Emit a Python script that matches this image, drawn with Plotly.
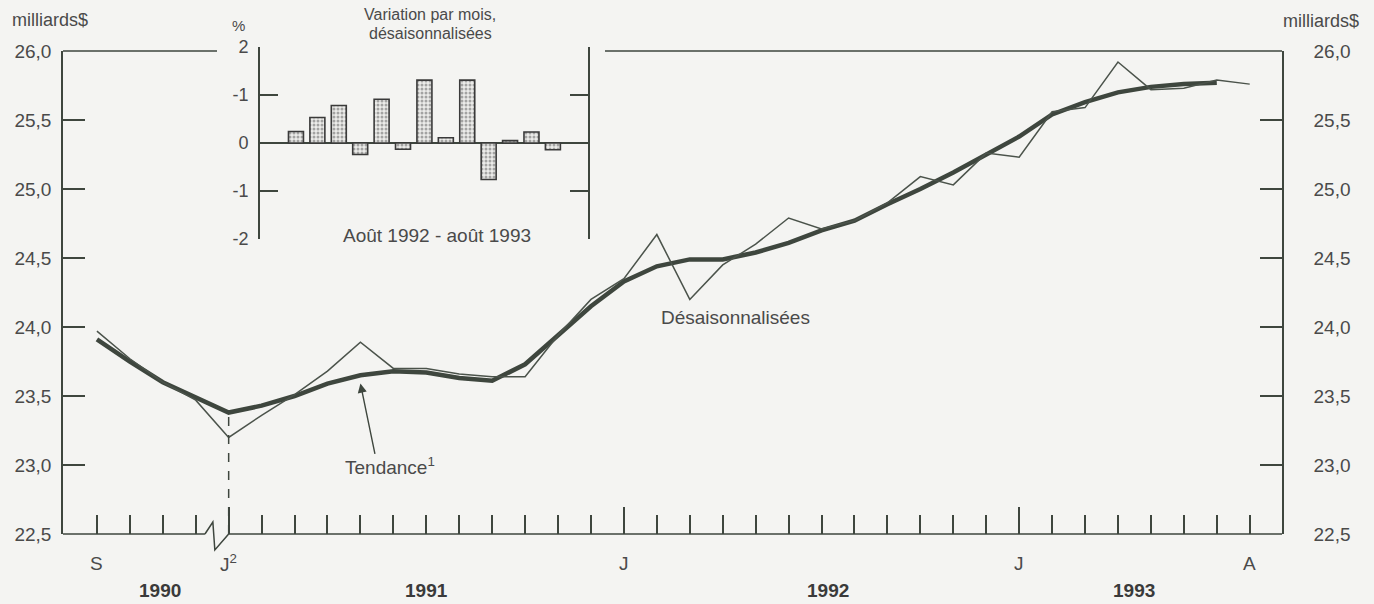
import plotly.graph_objects as go

# ---------------- data ----------------
# months from Sep 1990 (index 0) to Aug 1993 (index 35)
month_index = list(range(36))
desaisonnalisees = [23.97, 23.77, 23.60, 23.47,
                    23.20, 23.36, 23.51, 23.68, 23.89, 23.70, 23.70, 23.66, 23.64, 23.64, 23.94, 24.20,
                    24.35, 24.67, 24.20, 24.45, 24.60, 24.79, 24.71, 24.77, 24.90, 25.09, 25.03, 25.26,
                    25.23, 25.56, 25.59, 25.92, 25.72, 25.73, 25.79, 25.76]
tendance = [23.91, 23.75, 23.60, 23.49,
            23.38, 23.43, 23.50, 23.59, 23.65, 23.68, 23.67, 23.63, 23.61, 23.73, 23.94, 24.15,
            24.33, 24.44, 24.49, 24.49, 24.54, 24.61, 24.70, 24.77, 24.89, 25.00, 25.12, 25.25,
            25.38, 25.54, 25.63, 25.70, 25.74, 25.76, 25.77]
month_tick_idx = [0, 4, 16, 28, 35]
month_tick_text = ["S", "J<sup>2</sup>", "J", "J", "A"]
year_start_idx = [4, 16, 28]
year_text = ["1990", "1991", "1992", "1993"]
y_ticks = [22.5, 23.0, 23.5, 24.0, 24.5, 25.0, 25.5, 26.0]

# inset: monthly % change, Aug 1992 - Aug 1993
inset_idx = list(range(13))
inset_change = [0.24, 0.53, 0.78, -0.24, 0.91, -0.13, 1.31, 0.11, 1.31, -0.76, 0.05, 0.23, -0.14]
inset_ticks = [-2, -1, 0, 1, 2]
inset_tick_text = ["-2", "-1", "0", "-1", "2"]

# ---------------- style / layout ----------------
W, H = 1374, 604
BG = "#f4f4f2"
INK = "#3e463e"
TXT = "#4a4a4a"
FONT = "Liberation Sans, Arial, sans-serif"

def px(x):
    return x / W

def py(y):
    return (H - y) / H

# main plot box (pixels)
X0, X1 = 63, 1282
Y_TOP, Y_BOT = 51, 534
XR = [-1.03, 35.98]
YR = [22.5, 26.0]
# inset box (pixels)
IX0, IX1 = 260, 588
IY_TOP, IY_BOT = 47, 239

fig = go.Figure()

fig.add_trace(go.Scatter(x=month_index[:len(tendance)], y=tendance, mode="lines",
                         line=dict(color=INK, width=4.5), xaxis="x", yaxis="y",
                         hoverinfo="skip"))
fig.add_trace(go.Scatter(x=month_index, y=desaisonnalisees, mode="lines",
                         line=dict(color="#4b534b", width=1.5), xaxis="x", yaxis="y",
                         hoverinfo="skip"))
# invisible trace to bind right axis
fig.add_trace(go.Scatter(x=[month_index[0]], y=[desaisonnalisees[0]], mode="markers",
                         marker=dict(opacity=0), xaxis="x", yaxis="y2", hoverinfo="skip"))

fig.add_trace(go.Bar(x=inset_idx, y=inset_change, width=0.7, xaxis="x3", yaxis="y3",
                     marker=dict(color="#e6e6e3",
                                 line=dict(color="#3a3a3a", width=1.6),
                                 pattern=dict(shape=".", fgcolor="#5a5a5a", bgcolor="#ececea",
                                              size=4, solidity=0.45)),
                     hoverinfo="skip"))

axis_common = dict(showgrid=False, zeroline=False, automargin=False)

fig.update_layout(
    width=W, height=H, autosize=False,
    margin=dict(l=0, r=0, t=0, b=0, pad=0, autoexpand=False),
    paper_bgcolor=BG, plot_bgcolor="rgba(0,0,0,0)",
    showlegend=False,
    separators=", ",
    font=dict(family=FONT, size=19, color=TXT),
    bargap=0.3,
    xaxis=dict(domain=[px(X0), px(X1)], range=XR, anchor="y", **axis_common,
               showline=False, tickmode="array", tickvals=year_start_idx,
               ticks="inside", ticklen=27, tickwidth=1.5, tickcolor=INK,
               showticklabels=False,
               minor=dict(ticks="inside", dtick=1, tick0=0, ticklen=19,
                          tickwidth=1.5, tickcolor=INK, showgrid=False)),
    yaxis=dict(domain=[py(Y_BOT), py(Y_TOP)], range=YR, anchor="x", **axis_common,
               showline=True, linecolor=INK, linewidth=1.5,
               tickmode="array", tickvals=y_ticks, tickformat=".1f",
               ticks="inside", ticklen=22, tickwidth=1.5, tickcolor=INK,
               ticklabelstandoff=6, tickfont=dict(size=19, color=TXT)),
    yaxis2=dict(overlaying="y", side="right", range=YR, anchor="x", **axis_common,
                showline=True, linecolor=INK, linewidth=1.5,
                tickmode="array", tickvals=y_ticks, tickformat=".1f",
                ticks="inside", ticklen=22, tickwidth=1.5, tickcolor=INK,
                ticklabelstandoff=26, tickfont=dict(size=19, color=TXT)),
    xaxis3=dict(domain=[px(IX0), px(IX1)], range=[-1.68, 13.64], anchor="y3",
                visible=False, showgrid=False, zeroline=False, automargin=False),
    yaxis3=dict(domain=[py(IY_BOT), py(IY_TOP)], range=[-2, 2], anchor="x3",
                automargin=False,
                showgrid=False, zeroline=True, zerolinecolor=INK, zerolinewidth=1.6,
                showline=True, mirror="ticks", linecolor=INK, linewidth=1.6,
                tickmode="array", tickvals=inset_ticks, ticktext=inset_tick_text,
                ticks="inside", ticklen=18, tickwidth=1.6, tickcolor=INK,
                ticklabelstandoff=6, tickfont=dict(size=18, color=TXT)),
)

shapes = []
line_style = dict(color=INK, width=1.5)
# top border of main frame, interrupted by the inset
shapes.append(dict(type="line", xref="paper", yref="paper", x0=px(X0), x1=px(217),
                   y0=py(Y_TOP), y1=py(Y_TOP), line=line_style))
shapes.append(dict(type="line", xref="paper", yref="paper", x0=px(605), x1=px(X1),
                   y0=py(Y_TOP), y1=py(Y_TOP), line=line_style))
# bottom axis with a break between Dec 1990 and Jan 1991
yb = py(Y_BOT)
shapes.append(dict(type="line", xref="x", yref="paper", x0=XR[0], x1=3.28,
                   y0=yb, y1=yb, line=line_style))
shapes.append(dict(type="path", xref="x", yref="paper",
                   path=f"M 3.28,{yb} L 3.52,{yb + 12 / H} L 3.58,{yb - 16 / H} L 4,{yb}",
                   line=line_style))
shapes.append(dict(type="line", xref="x", yref="paper", x0=4, x1=XR[1],
                   y0=yb, y1=yb, line=line_style))
# dashed marker at the series break (Jan 1991)
shapes.append(dict(type="line", xref="x", yref="y", x0=month_tick_idx[1], x1=month_tick_idx[1],
                   y0=YR[0], y1=tendance[month_tick_idx[1]],
                   line=dict(color=INK, width=1.5, dash="dash")))
fig.update_layout(shapes=shapes)

ann = []
# month tick labels
for xi, t in zip(month_tick_idx, month_tick_text):
    ann.append(dict(x=xi, y=py(563), xref="x", yref="paper", text=t, showarrow=False,
                    xanchor="center", yanchor="middle", font=dict(size=19, color=TXT)))
# year labels
for xi, t in zip([1.9, 10.0, 22.2, 31.5], year_text):
    ann.append(dict(x=xi, y=py(590), xref="x", yref="paper", text=f"<b>{t}</b>",
                    showarrow=False, xanchor="center", yanchor="middle",
                    font=dict(size=19, color="#3a3a3a")))
# axis units
ann.append(dict(x=px(10), y=py(20), xref="paper", yref="paper", text="milliards$",
                showarrow=False, xanchor="left", yanchor="middle", font=dict(size=18, color=TXT)))
ann.append(dict(x=px(1361), y=py(21), xref="paper", yref="paper", text="milliards$",
                showarrow=False, xanchor="right", yanchor="middle", font=dict(size=18, color=TXT)))
# series labels
ann.append(dict(x=19.4, y=24.07, xref="x", yref="y", text="Désaisonnalisées",
                showarrow=False, xanchor="center", yanchor="middle", font=dict(size=19, color=TXT)))
ann.append(dict(x=8.9, y=22.99, xref="x", yref="y", text="Tendance<sup>1</sup>",
                showarrow=False, xanchor="center", yanchor="middle", font=dict(size=19, color=TXT)))
ann.append(dict(x=8, y=tendance[8] - 0.06, xref="x", yref="y",
                ax=8.45, ay=23.07, axref="x", ayref="y", text="",
                showarrow=True, arrowhead=2, arrowsize=1.3, arrowwidth=1.4, arrowcolor=INK))
# inset texts
ann.append(dict(x=px(238), y=py(25), xref="paper", yref="paper", text="%", showarrow=False,
                xanchor="center", yanchor="middle", font=dict(size=15, color=TXT)))
ann.append(dict(x=px(430), y=py(15), xref="paper", yref="paper", text="Variation par mois,",
                showarrow=False, xanchor="center", yanchor="middle", font=dict(size=16, color=TXT)))
ann.append(dict(x=px(430), y=py(33), xref="paper", yref="paper", text="désaisonnalisées",
                showarrow=False, xanchor="center", yanchor="middle", font=dict(size=16, color=TXT)))
ann.append(dict(x=px(437), y=py(235), xref="paper", yref="paper", text="Août 1992 - août 1993",
                showarrow=False, xanchor="center", yanchor="middle", font=dict(size=19, color=TXT),
                bgcolor=BG))
fig.update_layout(annotations=ann)

fig.write_html("out.html", config={"displayModeBar": False},
               post_script="document.body.style.margin='0';document.body.style.overflow='hidden';")
